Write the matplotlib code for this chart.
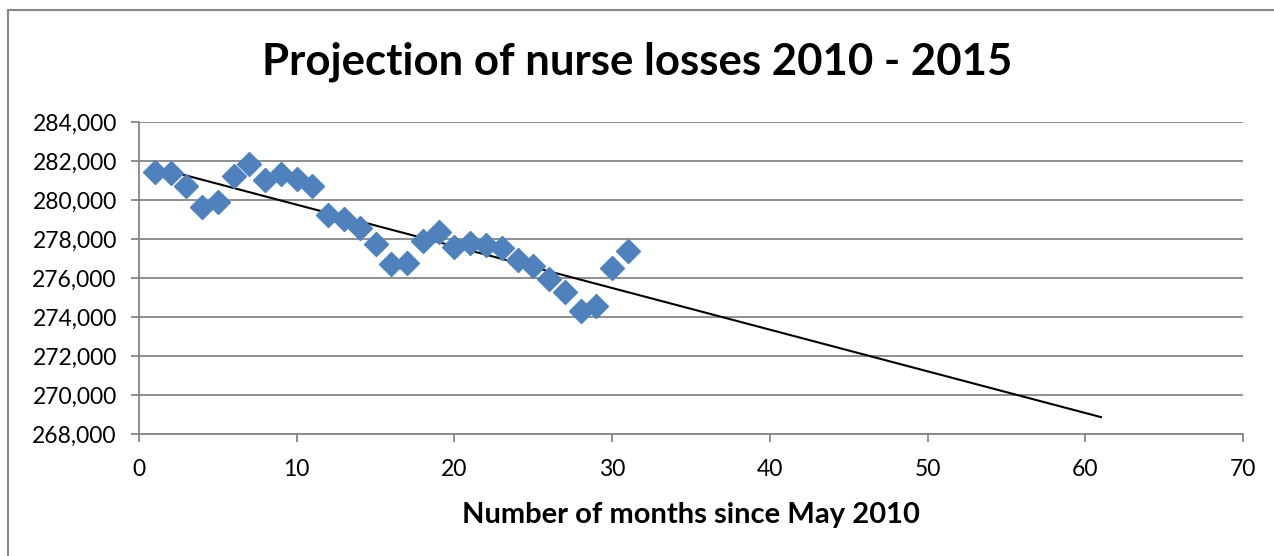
import numpy as np
import matplotlib.pyplot as plt
from matplotlib.patches import Rectangle
from matplotlib.ticker import FuncFormatter

# Monthly nurse counts
months = list(range(1, 32))
nurses = [281450, 281400, 280700, 279650, 279900, 281250, 281850, 281050,
          281350, 281080, 280720, 279230, 279030, 278560, 277750, 276700,
          276750, 277900, 278350, 277580, 277820, 277680, 277530, 276920,
          276600, 275950, 275280, 274300, 274580, 276500, 277400]
trend_end = 61

title = "Projection of nurse losses 2010 - 2015"
xlabel = "Number of months since May 2010"

plt.rcParams['font.family'] = ['Lato', 'DejaVu Sans']

fig = plt.figure(figsize=(12.74, 5.56), dpi=100)
ax = fig.add_axes([139 / 1274, 1 - 434 / 556, (1243 - 139) / 1274, (434 - 122) / 556])

grid_col = "#868686"

# linear trend, extended forward
slope, icpt = np.polyfit(months, nurses, 1)
tx = np.array([months[0], trend_end])
ax.plot(tx, slope * tx + icpt, color="black", lw=1.5, zorder=3)

ax.plot(months, nurses, linestyle="none", marker="D", markersize=12,
        color="#4F81BD", markeredgecolor="#4F81BD", zorder=4)

ax.set_xlim(0, 70)
ax.set_ylim(268000, 284000)
ax.set_xticks(range(0, 71, 10))
ax.set_yticks(range(268000, 284001, 2000))
ax.yaxis.set_major_formatter(FuncFormatter(lambda v, p: f"{int(v):,}"))
ax.grid(axis="y", color=grid_col, lw=1.3)
ax.set_axisbelow(True)

for s in ["top", "right"]:
    ax.spines[s].set_visible(False)
for s in ["left", "bottom"]:
    ax.spines[s].set_color(grid_col)
    ax.spines[s].set_linewidth(1.3)
ax.tick_params(axis="both", direction="out", length=6, width=1.3, color=grid_col,
               labelsize=16.5, labelcolor="black")
ax.tick_params(axis="x", pad=12)
ax.tick_params(axis="y", pad=10)

ax.set_xlabel(xlabel, fontsize=21, fontweight="bold", labelpad=16)
fig.text(0.5, 1 - 62 / 556, title, ha="center", va="center",
         fontsize=31.5, fontweight="bold")

fig.patches.append(Rectangle((8 / 1274, -0.01), 1.0, 1 - 10 / 556 + 0.01,
                             transform=fig.transFigure, fill=False,
                             edgecolor=grid_col, lw=1.5))

fig.savefig("out.png", dpi=100)
